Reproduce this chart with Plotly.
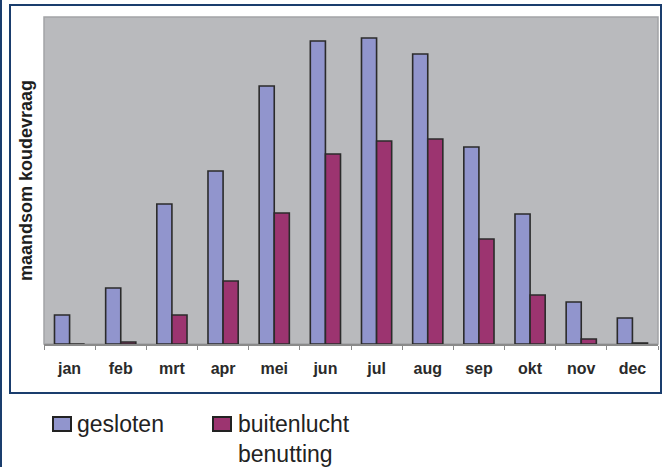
import plotly.graph_objects as go

months = ["jan", "feb", "mrt", "apr", "mei", "jun", "jul", "aug", "sep", "okt", "nov", "dec"]
series_names = ["gesloten", "buitenlucht benutting"]
gesloten = [29, 56, 140, 173, 258, 303, 306, 290, 197, 130, 42, 26]
buitenlucht = [0, 2, 29, 63, 131, 190, 203, 205, 105, 49, 5, 1]
colors = ["#9195cd", "#9c3470"]
y_title = "maandsom koudevraag"

W, H = 666, 467
L, R, T, B = 44, 8, 17, 123
pw, ph = W - L - R, H - T - B


def px(x):
    return (x - L) / pw


def py(y):
    return (H - B - y) / ph


fig = go.Figure()
for name, vals, col in zip(series_names, [gesloten, buitenlucht], colors):
    fig.add_trace(go.Bar(
        x=months, y=vals, name=name,
        marker=dict(color=col, line=dict(color="#2b2b2b", width=1.6)),
        showlegend=False,
    ))

fig.update_layout(
    width=W, height=H,
    margin=dict(l=L, r=R, t=T, b=B, autoexpand=False),
    paper_bgcolor="white",
    plot_bgcolor="#b9babd",
    barmode="group",
    bargap=0.41,
    bargroupgap=0,
    font=dict(family="Liberation Sans, Arial, sans-serif", color="#222222"),
    xaxis=dict(
        showgrid=False, zeroline=False,
        showline=True, linecolor="#8a8a8a", linewidth=1.5,
        ticks="outside", ticklen=4, tickcolor="#8a8a8a", tickson="boundaries",
        ticklabelstandoff=9,
        tickfont=dict(size=16, family="Liberation Sans, Arial, sans-serif", weight="bold", color="#2a2a2a"),
    ),
    yaxis=dict(
        range=[0, 327], showgrid=False, zeroline=False, showticklabels=False,
        showline=False, ticks="",
        title=dict(text=y_title, standoff=5,
                   font=dict(size=18, family="Liberation Sans, Arial, sans-serif", weight="bold", color="#1e1e1e")),
        automargin=False,
    ),
)

shapes = []
# outer left edge line
shapes.append(dict(type="line", xref="paper", yref="paper", x0=px(1), x1=px(1), y0=py(0), y1=py(H),
                   line=dict(color="#1a3d6d", width=2)))
# inner box
shapes.append(dict(type="rect", xref="paper", yref="paper", x0=px(10), x1=px(661), y0=py(5), y1=py(393),
                   line=dict(color="#1a3d6d", width=2), layer="below"))
# plot area border
shapes.append(dict(type="rect", xref="paper", yref="paper", x0=0, x1=1, y0=0, y1=1,
                   line=dict(color="#a3a4a7", width=1.5), layer="below"))

# manual legend
leg_x = [53, 213]
label_x = [75, 236]
annotations = []
for i, (name, col) in enumerate(zip(series_names, colors)):
    shapes.append(dict(type="rect", xref="paper", yref="paper",
                       x0=px(leg_x[i]), x1=px(leg_x[i] + 18), y0=py(417), y1=py(431),
                       fillcolor=col, line=dict(color="#222222", width=2)))
    text = name.replace(" ", "<br>")
    annotations.append(dict(
        xref="paper", yref="paper", x=px(label_x[i]), y=py(409), xanchor="left", yanchor="top",
        text=text, showarrow=False, align="left",
        font=dict(size=23, family="Liberation Sans, Arial, sans-serif", color="#222222"),
    ))

fig.update_layout(shapes=shapes, annotations=annotations)
fig.write_html("out.html")
